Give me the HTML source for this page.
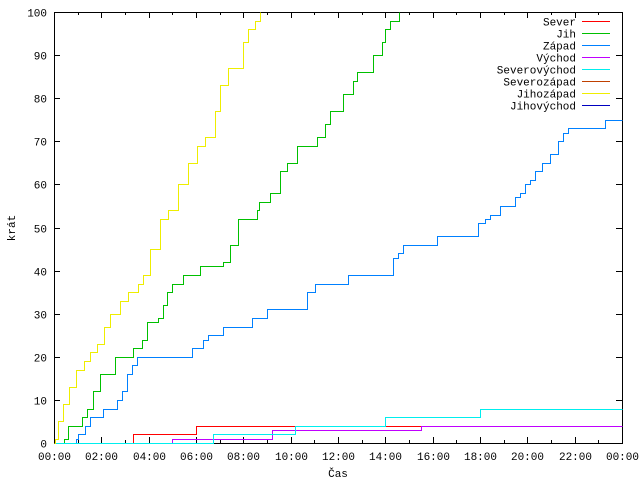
<!DOCTYPE html>
<html><head><meta charset="utf-8"><style>
html,body{margin:0;padding:0;background:#fff}
svg{display:block;font-family:"Liberation Mono",monospace;font-size:11px}
path,line,rect{shape-rendering:crispEdges}
</style></head><body>
<svg id="chart" width="640" height="480">
<rect x="0" y="0" width="640" height="480" fill="#fff"/>
<g id="grid"></g>
<g id="series"></g>
<g id="legend"></g>
<text x="15" y="228" transform="rotate(-90 15 228)" text-anchor="middle">krát</text>
<text x="338" y="477" text-anchor="middle">Čas</text>
</svg>
<script>
const xTickLabels = ["00:00","02:00","04:00","06:00","08:00","10:00","12:00","14:00","16:00","18:00","20:00","22:00","00:00"];
const yTickLabels = [0,10,20,30,40,50,60,70,80,90,100];
const seriesNames = ["Sever","Jih","Západ","Východ","Severovýchod","Severozápad","Jihozápad","Jihovýchod"];
const seriesColors = ["#ff0000","#00c000","#0080ff","#c000ff","#00eeee","#c04000","#eeee00","#0000c0"];
const sever = [[3.34,2],[6.0,4]];
const jih = [[0.42,1],[0.59,4],[1.18,6],[1.39,8],[1.65,12],[1.94,16],[2.58,20],[3.34,22],[3.72,24],[3.93,28],[4.39,29],[4.61,32],[4.77,35],[4.99,37],[5.45,39],[6.17,41],[7.14,42],[7.44,46],[7.77,52],[8.58,54],[8.66,56],[9.13,58],[9.55,63],[9.84,65],[10.27,69],[11.11,71],[11.45,74],[11.66,77],[12.21,81],[12.63,84],[12.80,86],[13.48,90],[13.86,93],[13.98,96],[14.20,98],[14.58,100]];
const zapad = [[0.93,1],[1.01,2],[1.31,4],[1.52,6],[2.07,8],[2.66,10],[2.87,12],[3.08,16],[3.30,18],[3.51,20],[5.83,22],[6.30,24],[6.51,25],[7.14,27],[8.37,29],[9.00,31],[10.69,35],[11.03,37],[12.42,39],[14.32,43],[14.53,44],[14.75,46],[16.18,48],[17.91,51],[18.21,52],[18.42,53],[18.84,55],[19.48,57],[19.69,58],[19.90,60],[20.11,61],[20.32,63],[20.62,65],[20.96,67],[21.29,70],[21.50,72],[21.72,73],[23.28,75]];
const vychod = [[4.99,1],[9.2,3],[15.5,4]];
const severovychod = [[6.7,2],[10.2,4],[14.0,6],[18.0,8]];
const severozapad = [];
const jihozapad = [[0.04,1],[0.15,5],[0.38,9],[0.65,13],[0.93,17],[1.27,19],[1.52,21],[1.82,23],[2.1,27],[2.37,30],[2.79,33],[3.13,35],[3.55,37],[3.76,39],[4.06,45],[4.48,52],[4.82,54],[5.24,60],[5.66,65],[6.04,69],[6.38,71],[6.80,77],[7.01,83],[7.35,87],[7.99,93],[8.20,96],[8.49,98],[8.70,100]];
const jihovychod = [];
const allSeries = [sever,jih,zapad,vychod,severovychod,severozapad,jihozapad,jihovychod];

const L=54,R=622,T=12,B=443, XMAX=24, YMAX=100;
const xs = h => Math.round(L + (R-L)*h/XMAX)+0.5;
const ys = v => Math.round(B - (B-T)*v/YMAX)+0.5;
const NS="http://www.w3.org/2000/svg";
function mk(tag, attrs, parent){const e=document.createElementNS(NS,tag);for(const k in attrs)e.setAttribute(k,attrs[k]);parent.appendChild(e);return e;}
const grid=document.getElementById('grid');
const sg=document.getElementById('series');
const lg=document.getElementById('legend');

xTickLabels.forEach((lab,i)=>{
  const h=i*2, x=xs(h);
  const t1=mk('line',{x1:x,y1:B,x2:x,y2:B-6,stroke:'#000'},grid);
  
  
  const t2=mk('line',{x1:x,y1:T,x2:x,y2:T+6,stroke:'#000'},grid);
  
  
  if(i<xTickLabels.length-1){
    const m=xs(h+1);
    const t3=mk('line',{x1:m,y1:B,x2:m,y2:B-3,stroke:'#000'},grid);
    
    
    const t4=mk('line',{x1:m,y1:T,x2:m,y2:T+3,stroke:'#000'},grid);
    
    
  }
  const tx=mk('text',{x:x,y:460,'text-anchor':'middle'},grid);
  tx.textContent=lab;
  
  
});
yTickLabels.forEach(v=>{
  const y=ys(v);
  const t1=mk('line',{x1:L,y1:y,x2:L+6,y2:y,stroke:'#000'},grid);
  
  
  const t2=mk('line',{x1:R,y1:y,x2:R-6,y2:y,stroke:'#000'},grid);
  
  
  const tx=mk('text',{x:47,y:y+4,'text-anchor':'end'},grid);
  tx.textContent=v;
  
  
});

allSeries.forEach((data,si)=>{
  if(!data.length) return;
  let d='M'+xs(0)+','+ys(0);
  let prev=0;
  data.forEach(([h,v])=>{d+=' L'+xs(h)+','+ys(prev)+' L'+xs(h)+','+ys(v);prev=v;});
  const last=data[data.length-1];
  if(last[1]<YMAX) d+=' L'+xs(XMAX)+','+ys(prev);
  const p=mk('path',{d:d,fill:'none',stroke:seriesColors[si],'stroke-width':1},sg);
  
  
});

const frame=mk('rect',{x:L+0.5,y:T+0.5,width:R-L,height:B-T,fill:'none',stroke:'#000'},grid);



seriesNames.forEach((n,i)=>{
  const y=21.5+i*12;
  const tx=mk('text',{x:576,y:y+4,'text-anchor':'end'},lg);
  tx.textContent=n;
  
  
  const ln=mk('line',{x1:582,y1:y,x2:610,y2:y,stroke:seriesColors[i]},lg);
  
  
});
</script>
</body></html>
